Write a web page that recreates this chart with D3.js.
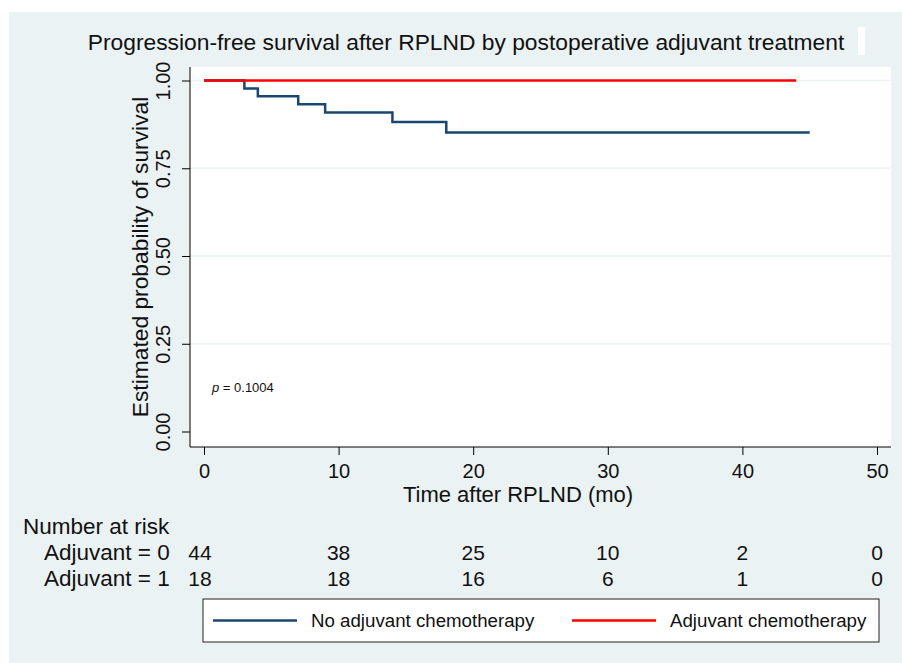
<!DOCTYPE html>
<html>
<head>
<meta charset="utf-8">
<script src="https://cdn.jsdelivr.net/npm/d3@7"></script>
<style>
    body { margin: 0; background: #fff; }
    text { font-family: "Liberation Sans", Arial, sans-serif; fill: #111; }
</style>
</head>
<body>
<script>
//chart data
var noAdjTimes = [0, 3, 4, 7, 9, 14, 18, 45];
var noAdjSurv = [1, 0.977, 0.955, 0.932, 0.909, 0.882, 0.852, 0.852];
var adjTimes = [0, 44];
var adjSurv = [1, 1];
var yTicks = [0, 0.25, 0.5, 0.75, 1];
var xTicks = [0, 10, 20, 30, 40, 50];
var riskLabels = ["Adjuvant = 0", "Adjuvant = 1"];
var riskNoAdj = [44, 38, 25, 10, 2, 0];
var riskAdj = [18, 18, 16, 6, 1, 0];
var legendLabels = ["No adjuvant chemotherapy", "Adjuvant chemotherapy"];
var colors = ["#1a476f", "#ff0000"];

window.onload = function () {
    var w = 902, h = 663;

    var svg = d3.select("body")
        .append("svg")
        .attr("width", w)
        .attr("height", h);

    //outer graph region
    svg.append("rect")
        .attr("x", 9).attr("y", 12)
        .attr("width", w - 9).attr("height", h - 12)
        .style("fill", "#eaf2f3");

    //plot region
    var plot = { left: 190, top: 67, right: 891, bottom: 447 };
    svg.append("rect")
        .attr("x", plot.left).attr("y", plot.top)
        .attr("width", plot.right - plot.left)
        .attr("height", plot.bottom - plot.top)
        .style("fill", "#fff");

    var x = d3.scaleLinear().domain([0, 50]).range([204, 877]);
    var y = d3.scaleLinear().domain([0, 1]).range([431.5, 80.5]);

    //grid lines
    svg.selectAll(".grid")
        .data(yTicks.filter(function (d) { return d > 0; }))
        .enter()
        .append("line")
        .attr("x1", plot.left).attr("x2", plot.right)
        .attr("y1", function (d) { return y(d); })
        .attr("y2", function (d) { return y(d); })
        .style("stroke", "#eaf2f3")
        .style("stroke-width", 1.5);

    //y axis
    var yAxis = d3.axisLeft(y)
        .tickValues(yTicks)
        .tickSize(8)
        .tickFormat(d3.format(".2f"));
    var gy = svg.append("g")
        .attr("transform", "translate(" + plot.left + ",0)")
        .call(yAxis);
    gy.select(".domain").remove();
    gy.append("line")
        .attr("x1", 0).attr("x2", 0)
        .attr("y1", plot.top).attr("y2", plot.bottom)
        .style("stroke", "#000");
    gy.selectAll(".tick line").style("stroke", "#000");
    gy.selectAll(".tick text")
        .attr("x", 0).attr("dy", 0)
        .attr("transform", "translate(-20,0) rotate(-90)")
        .attr("text-anchor", "middle")
        .style("font-size", "20px")
        .style("font-family", "Liberation Sans, Arial, sans-serif")
        .style("fill", "#111");

    //x axis
    var xAxis = d3.axisBottom(x)
        .tickValues(xTicks)
        .tickSize(8);
    var gx = svg.append("g")
        .attr("transform", "translate(0," + plot.bottom + ")")
        .call(xAxis);
    gx.select(".domain").remove();
    gx.append("line")
        .attr("x1", plot.left).attr("x2", plot.right)
        .attr("y1", 0).attr("y2", 0)
        .style("stroke", "#000");
    gx.selectAll(".tick line").style("stroke", "#000");
    gx.selectAll(".tick text")
        .attr("y", 31).attr("dy", 0)
        .style("font-size", "20px")
        .style("font-family", "Liberation Sans, Arial, sans-serif")
        .style("fill", "#111");

    //survival step lines, adjuvant group drawn last so it sits on top
    var line = d3.line()
        .x(function (d) { return x(d[0]); })
        .y(function (d) { return y(d[1]); })
        .curve(d3.curveStepAfter);
    var series = [d3.zip(noAdjTimes, noAdjSurv), d3.zip(adjTimes, adjSurv)];
    svg.selectAll(".km")
        .data(series)
        .enter()
        .append("path")
        .attr("d", line)
        .style("fill", "none")
        .style("stroke", function (d, i) { return colors[i]; })
        .style("stroke-width", 2.5);

    //p value
    var pText = svg.append("text")
        .attr("x", 212).attr("y", 392)
        .style("font-size", "13px");
    pText.append("tspan").style("font-style", "italic").text("p");
    pText.append("tspan").text(" = 0.1004");

    //title
    svg.append("text")
        .attr("x", 466).attr("y", 50)
        .attr("text-anchor", "middle")
        .style("font-size", "22.8px")
        .text("Progression-free survival after RPLND by postoperative adjuvant treatment");
    svg.append("rect")
        .attr("x", 858).attr("y", 27)
        .attr("width", 7).attr("height", 28)
        .style("fill", "#fff");

    //axis titles
    svg.append("text")
        .attr("transform", "translate(148,257) rotate(-90)")
        .attr("text-anchor", "middle")
        .style("font-size", "22.8px")
        .text("Estimated probability of survival");
    svg.append("text")
        .attr("x", 518).attr("y", 502)
        .attr("text-anchor", "middle")
        .style("font-size", "22px")
        .text("Time after RPLND (mo)");

    //number at risk table
    svg.append("text")
        .attr("x", 23).attr("y", 534)
        .style("font-size", "22.5px")
        .text("Number at risk");
    var rows = [riskNoAdj, riskAdj];
    rows.forEach(function (row, r) {
        var ry = 560 + r * 26;
        svg.append("text")
            .attr("x", 44).attr("y", ry)
            .style("font-size", "22.5px")
            .text(riskLabels[r]);
        svg.selectAll(".risk" + r)
            .data(row)
            .enter()
            .append("text")
            .attr("x", function (d, i) { return x(xTicks[i]) - (i === 0 ? 4 : 0); })
            .attr("y", ry)
            .attr("text-anchor", "middle")
            .style("font-size", "21px")
            .text(function (d) { return d; });
    });

    //legend
    svg.append("rect")
        .attr("x", 203).attr("y", 599)
        .attr("width", 676).attr("height", 43)
        .style("fill", "#fff")
        .style("stroke", "#222")
        .style("stroke-width", 1);
    var legX = [213, 572];
    legendLabels.forEach(function (lab, i) {
        svg.append("line")
            .attr("x1", legX[i]).attr("x2", legX[i] + 84)
            .attr("y1", 620.5).attr("y2", 620.5)
            .style("stroke", colors[i])
            .style("stroke-width", 2.5);
        svg.append("text")
            .attr("x", legX[i] + 98).attr("y", 627)
            .style("font-size", "18.7px")
            .text(lab);
    });
};
</script>
</body>
</html>
